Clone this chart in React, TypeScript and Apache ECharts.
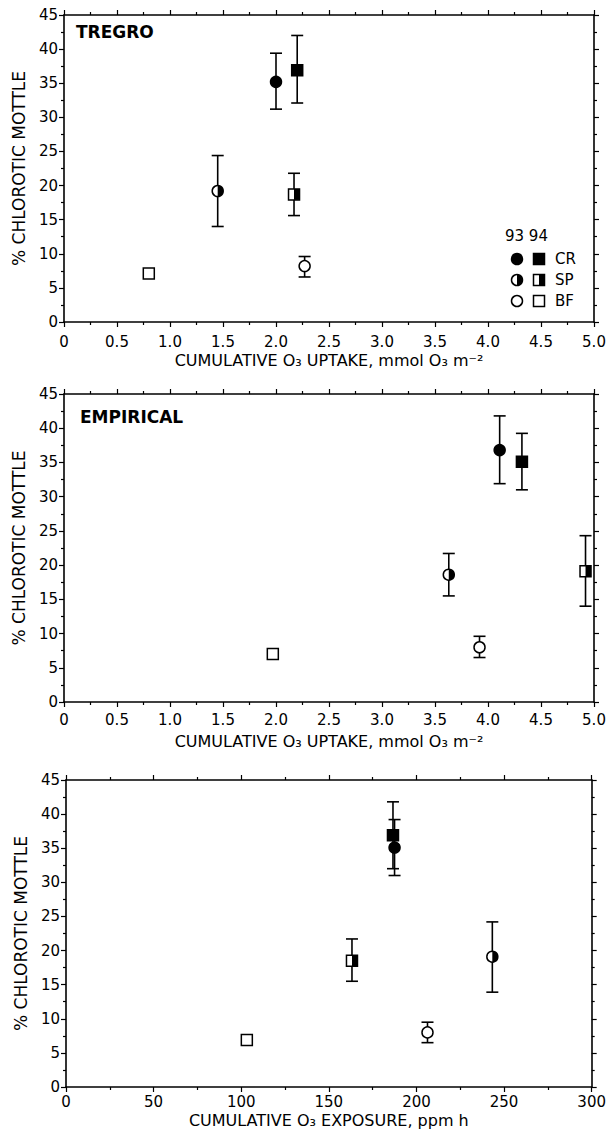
import React, { useEffect, useRef } from 'react';
import * as echarts from 'echarts';

// marker kinds: year 93 = circle, year 94 = square; CR filled, SP half, BF open
const kindShape = ['circle', 'square', 'circle', 'square', 'circle', 'square'];
const kindFill = ['full', 'full', 'half', 'half', 'open', 'open'];

// Panel 1: TREGRO
const tregroX = [2.0, 2.2, 1.45, 2.17, 2.27, 0.8];
const tregroY = [35.2, 36.9, 19.2, 18.7, 8.2, 7.1];
const tregroLow = [31.2, 32.1, 14.0, 15.6, 6.6, null];
const tregroHigh = [39.4, 42.0, 24.4, 21.8, 9.6, null];

// Panel 2: EMPIRICAL
const empX = [4.11, 4.32, 3.63, 4.92, 3.92, 1.97];
const empY = [36.8, 35.1, 18.6, 19.1, 8.0, 7.0];
const empLow = [31.9, 31.0, 15.5, 14.0, 6.5, null];
const empHigh = [41.8, 39.25, 21.7, 24.3, 9.6, null];

// Panel 3: EXPOSURE
const expX = [187.5, 186.6, 243.3, 163.2, 206.3, 103.2];
const expY = [35.1, 36.9, 19.1, 18.5, 8.0, 6.9];
const expLow = [31.0, 32.0, 13.9, 15.5, 6.5, null];
const expHigh = [39.2, 41.8, 24.2, 21.7, 9.5, null];

const uptakeTickLabels = ['0', '0.5', '1.0', '1.5', '2.0', '2.5', '3.0', '3.5', '4.0', '4.5', '5.0'];
const exposureTickLabels = ['0', '50', '100', '150', '200', '250', '300'];
const yTickLabels = ['0', '5', '10', '15', '20', '25', '30', '35', '40', '45'];

const legendYears = '93 94';
const legendGroups = ['CR', 'SP', 'BF'];

const FONT = 'DejaVu Sans';
const R = 5.5;

function markerShapes(k: number, cx: number, cy: number): any[] {
  const shape = kindShape[k];
  const fill = kindFill[k];
  const out: any[] = [];
  if (shape === 'circle') {
    out.push({
      type: 'circle',
      shape: { cx, cy, r: R },
      style: { fill: fill === 'full' ? '#000' : '#fff', stroke: '#000', lineWidth: 1.5 },
    });
    if (fill === 'half') {
      out.push({
        type: 'sector',
        shape: { cx, cy, r: R, r0: 0, startAngle: -Math.PI / 2, endAngle: Math.PI / 2, clockwise: true },
        style: { fill: '#000' },
      });
    }
  } else {
    out.push({
      type: 'rect',
      shape: { x: cx - R, y: cy - R, width: 2 * R, height: 2 * R },
      style: { fill: fill === 'full' ? '#000' : '#fff', stroke: '#000', lineWidth: 1.5 },
    });
    if (fill === 'half') {
      out.push({
        type: 'rect',
        shape: { x: cx, y: cy - R, width: R, height: 2 * R },
        style: { fill: '#000' },
      });
    }
  }
  return out;
}

function renderItem(params: any, api: any) {
  const i = params.dataIndex;
  const x = api.value(0);
  const y = api.value(1);
  const lo = api.value(2);
  const hi = api.value(3);
  const p = api.coord([x, y]);
  const children: any[] = [];
  if (Number.isFinite(lo) && Number.isFinite(hi)) {
    const pl = api.coord([x, lo]);
    const ph = api.coord([x, hi]);
    const st = { stroke: '#000', lineWidth: 1.6 };
    children.push({ type: 'line', shape: { x1: p[0], y1: pl[1], x2: p[0], y2: ph[1] }, style: st });
    children.push({ type: 'line', shape: { x1: p[0] - 6, y1: pl[1], x2: p[0] + 6, y2: pl[1] }, style: st });
    children.push({ type: 'line', shape: { x1: p[0] - 6, y1: ph[1], x2: p[0] + 6, y2: ph[1] }, style: st });
  }
  children.push(...markerShapes(i, p[0], p[1]));
  return { type: 'group', children };
}

function buildData(xs: number[], ys: number[], lo: (number | null)[], hi: (number | null)[]) {
  return xs.map((x, i) => [x, ys[i], lo[i] == null ? '-' : lo[i], hi[i] == null ? '-' : hi[i]]);
}

const black = '#000';

function xAxes(g: number, max: number, interval: number, labels: string[], name: any, margin: number, nameGap: number) {
  const base = {
    gridIndex: g,
    type: 'value',
    min: 0,
    max,
    interval,
    splitLine: { show: false },
    axisLine: { show: true, onZero: false, lineStyle: { color: black, width: 1.6 } },
    axisTick: { show: true, inside: false, length: 5, lineStyle: { color: black, width: 1.2 } },
    minorTick: { show: true, splitNumber: 2, length: 3, lineStyle: { color: black, width: 1.2 } },
  };
  return [
    {
      ...base,
      position: 'bottom',
      axisLabel: {
        color: black,
        fontFamily: FONT,
        fontSize: 15,
        margin,
        formatter: (v: number) => labels[Math.round(v / interval)] ?? '',
      },
      name,
      nameLocation: 'middle',
      nameGap,
      nameTextStyle: { color: black, fontFamily: FONT, fontSize: 16 },
    },
    { ...base, position: 'top', axisLabel: { show: false } },
  ];
}

function yAxes(g: number) {
  const base = {
    gridIndex: g,
    type: 'value',
    min: 0,
    max: 45,
    interval: 5,
    splitLine: { show: false },
    axisLine: { show: true, onZero: false, lineStyle: { color: black, width: 1.6 } },
    axisTick: { show: true, inside: false, length: 5, lineStyle: { color: black, width: 1.2 } },
    minorTick: { show: true, splitNumber: 2, length: 3, lineStyle: { color: black, width: 1.2 } },
  };
  return [
    {
      ...base,
      position: 'left',
      axisLabel: {
        color: black,
        fontFamily: FONT,
        fontSize: 15,
        margin: 6,
        formatter: (v: number) => yTickLabels[Math.round(v / 5)] ?? '',
      },
      name: '% CHLOROTIC MOTTLE',
      nameLocation: 'middle',
      nameGap: 37,
      nameTextStyle: { color: black, fontFamily: FONT, fontSize: 17 },
    },
    { ...base, position: 'right', axisLabel: { show: false } },
  ];
}

const uptakeName = 'CUMULATIVE O₃ UPTAKE, mmol O₃ m⁻²';
const exposureName = 'CUMULATIVE O₃ EXPOSURE, ppm h';

export default function App() {
  const ref = useRef<HTMLDivElement>(null);
  useEffect(() => {
    if (!ref.current) return;
    const chart = echarts.init(ref.current, undefined, { renderer: 'svg' });

    const legendGraphics: any[] = [
      {
        type: 'text',
        left: 505,
        top: 228,
        style: { text: legendYears, fill: black, font: `15px "${FONT}"` },
      },
    ];
    const rowY = [259, 280, 301];
    legendGroups.forEach((gname, r) => {
      legendGraphics.push(...markerShapes(r * 2, 517, rowY[r]));
      legendGraphics.push(...markerShapes(r * 2 + 1, 539, rowY[r]));
      legendGraphics.push({
        type: 'text',
        x: 555,
        y: rowY[r],
        style: { text: gname, fill: black, font: `15px "${FONT}"`, verticalAlign: 'middle' },
      });
    });

    chart.setOption({
      animation: false,
      backgroundColor: '#fff',
      grid: [
        { left: 64, top: 15, width: 530, height: 307 },
        { left: 64, top: 394, width: 530, height: 308 },
        { left: 66, top: 780, width: 531, height: 307 },
      ],
      xAxis: [
        ...xAxes(0, 5, 0.5, uptakeTickLabels, uptakeName, 12, 30),
        ...xAxes(1, 5, 0.5, uptakeTickLabels, uptakeName, 10, 31),
        ...xAxes(2, 300, 50, exposureTickLabels, exposureName, 7, 25),
      ],
      yAxis: [...yAxes(0), ...yAxes(1), ...yAxes(2)],
      graphic: [
        {
          type: 'text',
          left: 76,
          top: 23,
          style: { text: 'TREGRO', fill: black, font: `bold 17px "${FONT}"` },
        },
        {
          type: 'text',
          left: 80,
          top: 408,
          style: { text: 'EMPIRICAL', fill: black, font: `bold 17px "${FONT}"` },
        },
        ...legendGraphics,
      ],
      series: [
        {
          type: 'custom',
          xAxisIndex: 0,
          yAxisIndex: 0,
          renderItem,
          encode: { x: 0, y: 1 },
          data: buildData(tregroX, tregroY, tregroLow, tregroHigh),
        },
        {
          type: 'custom',
          xAxisIndex: 2,
          yAxisIndex: 2,
          renderItem,
          encode: { x: 0, y: 1 },
          data: buildData(empX, empY, empLow, empHigh),
        },
        {
          type: 'custom',
          xAxisIndex: 4,
          yAxisIndex: 4,
          renderItem,
          encode: { x: 0, y: 1 },
          data: buildData(expX, expY, expLow, expHigh),
        },
      ],
    });
    return () => chart.dispose();
  }, []);
  return (
    <div
      ref={ref}
      style={{ position: 'absolute', left: 0, top: 0, width: 609, height: 1139, background: '#fff' }}
    />
  );
}
